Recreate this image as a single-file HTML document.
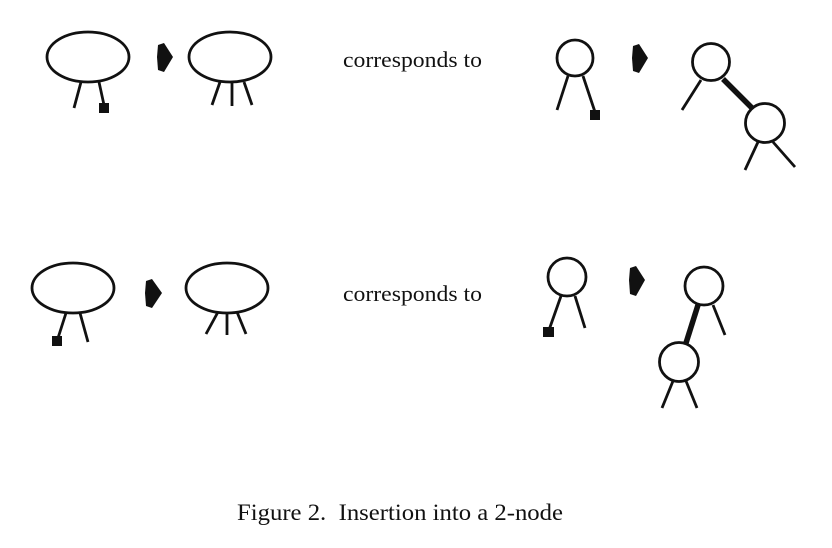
<!DOCTYPE html>
<html><head><meta charset="utf-8"><style>
html,body{margin:0;padding:0;background:#fff;}
svg{display:block;}
text{font-family:"Liberation Serif",serif;fill:#111;}
</style></head><body>
<svg width="832" height="548" viewBox="0 0 832 548" xmlns="http://www.w3.org/2000/svg">
<g stroke="#111" stroke-width="2.8" fill="none">
<ellipse cx="88" cy="57" rx="41" ry="25"/>
<line x1="81" y1="82" x2="74" y2="108"/>
<line x1="99" y1="82" x2="104" y2="105"/>
<ellipse cx="230" cy="57" rx="41" ry="25"/>
<line x1="220" y1="82" x2="212" y2="105"/>
<line x1="232" y1="82" x2="232" y2="106"/>
<line x1="244" y1="82" x2="252" y2="105"/>
<circle cx="575" cy="58" r="18"/>
<line x1="568" y1="76" x2="557" y2="110"/>
<line x1="583" y1="76" x2="595" y2="112"/>
<circle cx="711" cy="62" r="18.5"/>
<line x1="701" y1="80" x2="682" y2="110"/>
<circle cx="765" cy="123" r="19.5"/>
<line x1="758" y1="142" x2="745" y2="170"/>
<line x1="773" y1="142" x2="795" y2="167"/>
<ellipse cx="73" cy="288" rx="41" ry="25"/>
<line x1="66" y1="313" x2="58" y2="338"/>
<line x1="80" y1="313" x2="88" y2="342"/>
<ellipse cx="227" cy="288" rx="41" ry="25"/>
<line x1="218" y1="312" x2="206" y2="334"/>
<line x1="227" y1="312" x2="227" y2="335"/>
<line x1="237" y1="312" x2="246" y2="334"/>
<circle cx="567" cy="277" r="19"/>
<line x1="561" y1="296" x2="549" y2="330"/>
<line x1="575" y1="296" x2="585" y2="328"/>
<circle cx="704" cy="286" r="19"/>
<line x1="713" y1="305" x2="725" y2="335"/>
<circle cx="679" cy="362" r="19.5"/>
<line x1="673" y1="381" x2="662" y2="408"/>
<line x1="686" y1="381" x2="697" y2="408"/>
</g>
<line x1="723" y1="79" x2="752" y2="108" stroke="#111" stroke-width="5.5"/>
<line x1="698" y1="305" x2="686" y2="343" stroke="#111" stroke-width="5.5"/>
<g fill="#111">
<rect x="99" y="103" width="10" height="10"/>
<rect x="590" y="110" width="10" height="10"/>
<rect x="52" y="336" width="10" height="10"/>
<rect x="543" y="327" width="11" height="10"/>
<polygon points="158,45 164,43 173,57 164,72 158,70 157,57"/>
<polygon points="633,46 639,44 648,58 639,73 633,71 632,58"/>
<polygon points="146,281 152,279 162,293 152,308 146,306 145,293"/>
<polygon points="630,268 636,266 645,280 636,296 630,294 629,280"/>
</g>
<text x="343" y="67" font-size="22" textLength="139" lengthAdjust="spacingAndGlyphs">corresponds to</text>
<text x="343" y="301" font-size="22" textLength="139" lengthAdjust="spacingAndGlyphs">corresponds to</text>
<text x="237" y="520" font-size="23" textLength="326" lengthAdjust="spacingAndGlyphs" xml:space="preserve">Figure 2.  Insertion into a 2-node</text>
</svg>
</body></html>
